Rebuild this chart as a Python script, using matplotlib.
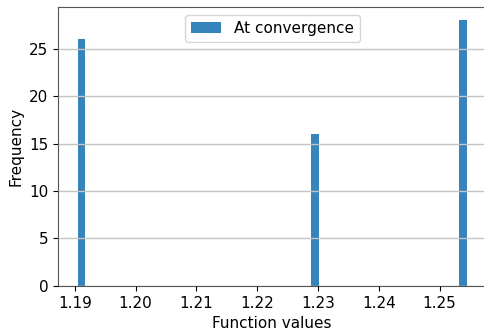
import matplotlib
matplotlib.use("Agg")
import matplotlib.pyplot as plt
import numpy as np

# objective values reached at convergence and how many runs hit each one
valores_finais = [1.19045, 1.2295, 1.2545]
contagens = [26, 16, 28]

amostras = np.repeat(valores_finais, contagens)

plt.rcParams["font.size"] = 11

fig = plt.figure(figsize=(4.84, 3.34), dpi=100)
# the right edge of the axes runs just past the canvas
ax = fig.add_axes([0.12, 0.144, 0.885, 0.835])
ax.hist(amostras, bins=50, color="#1f77b4", alpha=0.9, label="At convergence")
ax.set_xlabel("Function values")
ax.set_ylabel("Frequency")
ax.grid(axis="y", color="#c4c4c4", linewidth=1.0)
ax.set_axisbelow(False)
ax.legend(loc="upper center")
for lado in ("left", "bottom", "top"):
    ax.spines[lado].set_color("#555555")
ax.spines["right"].set_visible(False)

fig.savefig("out.png", dpi=100)
